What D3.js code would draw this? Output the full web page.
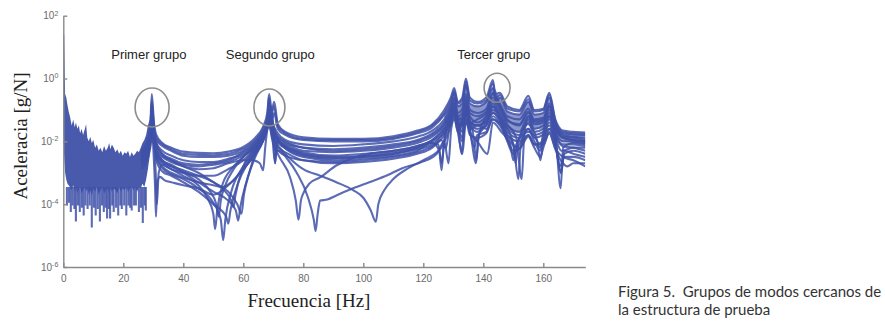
<!DOCTYPE html>
<html>
<head>
<meta charset="utf-8">
<script src="https://cdn.jsdelivr.net/npm/d3@7"></script>
<style>
	body { margin: 0; background: #fff; }
	.axis path, .axis line { stroke: #8a8a8a; stroke-width: 1.4; }
	.axis text { font-family: "Liberation Sans", Arial, sans-serif; font-size: 10px; fill: #6a6a6a; }
	.frf { fill: none; stroke: #3f51a8; stroke-width: 2.1; stroke-opacity: 0.85; }
	.band { fill: #3f51a8; }
	.group-label { font-family: "Liberation Sans", Arial, sans-serif; font-size: 13px; fill: #222; }
	.axis-title { font-family: "Liberation Serif", "Times New Roman", serif; font-size: 19px; fill: #222; }
	.caption { font-family: "Lato", "Open Sans", sans-serif; font-size: 15px; fill: #333; white-space: pre; }
</style>
</head>
<body>
<script>

// ---- data (frequency in Hz, acceleration in g/N) ----

var xTicks = [0, 20, 40, 60, 80, 100, 120, 140, 160];
var yTicks = [1e-6, 1e-4, 1e-2, 1e0, 1e2];
var yTickExp = ["-6", "-4", "-2", "0", "2"];

// dense low-frequency noise band
var noiseHz = [0,0.3,0.6,1,1.4,1.8,2.2,2.8,3.3,3.8,4.2,4.7,5.2,5.6,6.1,6.6,7.2,7.6,8.0,8.5,9,9.5,10,10.6,11.2,11.8,12.4,13,13.6,14.2,14.8,15.3,15.7,16.2,16.8,17.4,18,18.6,19.2,19.8,20.4,21,21.6,22.2,22.8,23.4,24,24.6,25.2,25.8,26.4,27,27.6,28.2,28.8];
var noiseTop = [25,25,0.32,0.25,0.14,0.089,0.063,0.032,0.05,0.028,0.04,0.025,0.032,0.018,0.025,0.016,0.025,0.035,0.013,0.01,0.014,8.9e-3,0.011,6.3e-3,8e-3,5e-3,6.3e-3,4.5e-3,7.1e-3,5e-3,6.3e-3,8.9e-3,5.6e-3,8e-3,6.3e-3,4.5e-3,5.6e-3,4e-3,5e-3,3.5e-3,4.5e-3,4e-3,5e-3,3.2e-3,4.5e-3,3.5e-3,4e-3,5e-3,4.5e-3,6.3e-3,8.9e-3,0.011,0.016,0.032,0.05];
var noiseBottom = [0.02,3e-3,1e-3,6e-4,4.5e-4,4e-4,3.5e-4,2.8e-4,4e-4,2.5e-4,3.5e-4,2.2e-4,3.2e-4,3.5e-4,2.2e-4,2.8e-4,3.5e-4,2.5e-4,3.2e-4,2e-4,2.8e-4,1.8e-4,3.2e-4,2.5e-4,3.5e-4,2e-4,2.8e-4,3.5e-4,2.2e-4,2.8e-4,3.2e-4,2.2e-4,3.5e-4,2.5e-4,3.2e-4,2.8e-4,2.2e-4,3.5e-4,2.5e-4,3.2e-4,2.8e-4,3.5e-4,2.5e-4,3.2e-4,3.5e-4,2.8e-4,3.5e-4,2.5e-4,3.5e-4,3.2e-4,4.5e-4,3.5e-4,6e-4,1.3e-3,3.5e-3];
var noiseFloor = 3.5e-4;
var noiseDipHz = [1.2,1.9,2.5,3.1,3.7,4.2,4.9,5.5,6.2,6.8,7.4,8.1,8.8,9.5,10.2,10.8,11.5,12.2,12.9,13.5,14.1,14.6,15.2,15.6,16.3,16.8,17.6,18.3,19,19.5,20.3,21,21.7,22.3,22.8,23.6,24.2,25.2,25.9,26.5,27.1,27.5];
var noiseDipVal = [9e-5,1.1e-4,5.6e-5,9e-5,7e-5,2.8e-5,9e-5,5.6e-5,7.7e-5,4.4e-5,9e-5,7e-5,9e-5,1.8e-5,7.7e-5,4.4e-5,7e-5,2.8e-5,9e-5,5.6e-5,7.7e-5,3.5e-5,7e-5,3.5e-5,9e-5,5.6e-5,7.7e-5,4.4e-5,9e-5,7e-5,9e-5,4.4e-5,9e-5,7.7e-5,6.3e-5,9e-5,9e-5,5.6e-5,7.7e-5,2.5e-5,9e-5,6.3e-5];

// solid core of the third group
var coreHz = [127,129.2,130.3,131.5,133,134.2,135.5,138,141,143.2,145.5,148,152,155,157,160,162,164,166.5,170,174];
var coreTop = [0.071,0.16,0.35,0.13,0.16,0.63,0.16,0.13,0.18,0.5,0.25,0.089,0.071,0.18,0.071,0.08,0.25,0.04,0.018,0.0166,0.016];
var coreBottom = [0.032,0.05,0.063,0.032,0.02,0.063,0.032,0.032,0.04,0.08,0.05,0.025,0.02,0.04,0.025,0.025,0.05,0.016,0.01,8.9e-3,8e-3];

// individual FRF curves [Hz, g/N]
var topA = [[26,5e-3],[28,0.01],[29,0.032],[29.5,0.32],[30.2,0.04],[31,0.016],[33,8.9e-3],[36,6.3e-3],[40,4.7e-3],[45,4.3e-3],[50,4.2e-3],[55,4.7e-3],[60,6.6e-3],[64,0.013],[66.5,0.028],[68,0.08],[68.6,0.32],[69.5,0.1],[70.3,0.18],[71.5,0.035],[74,0.02],[80,0.0135],[90,0.012],[100,0.012],[110,0.0145],[118,0.022],[123,0.035],[127,0.1],[129.2,0.25],[130.3,0.5],[131.5,0.18],[133,0.25],[134.2,1.0],[135.5,0.25],[138,0.18],[141,0.25],[143.2,0.89],[144,0.32],[145.5,0.35],[148,0.13],[152,0.1],[155,0.28],[157,0.1],[160,0.11],[162,0.35],[164,0.05],[166.5,0.022],[170,0.02],[174,0.019]];
var topE = [[26,4.5e-3],[28,9e-3],[29,0.025],[29.5,0.2],[30.2,0.03],[31,0.013],[33,8e-3],[36,5.6e-3],[40,4e-3],[45,3.7e-3],[50,3.6e-3],[55,4e-3],[60,5.8e-3],[64,0.011],[66.5,0.024],[68,0.06],[68.5,0.25],[69.4,0.07],[70.2,0.13],[71.5,0.03],[74,0.018],[80,0.012],[90,0.011],[100,0.011],[110,0.013],[118,0.02],[123,0.032],[127,0.08],[129.2,0.2],[130.3,0.4],[131.5,0.16],[133,0.2],[134.2,0.8],[135.5,0.2],[138,0.16],[141,0.2],[143.2,0.7],[144.2,0.25],[145.5,0.3],[148,0.11],[152,0.089],[155,0.22],[157,0.089],[160,0.1],[162,0.3],[164,0.045],[166.5,0.02],[170,0.018],[174,0.0175]];
var topB = [[26,4e-3],[28,8e-3],[29,0.02],[29.6,0.13],[30.2,0.025],[31,0.011],[33,7.1e-3],[36,5e-3],[40,3.5e-3],[45,3.2e-3],[50,3.2e-3],[55,3.5e-3],[60,5e-3],[64,0.01],[66.5,0.02],[68,0.04],[68.8,0.16],[69.6,0.05],[70.3,0.08],[71.5,0.025],[74,0.016],[80,0.011],[90,0.01],[100,0.01],[110,0.012],[118,0.018],[123,0.028],[127,0.071],[129.2,0.16],[130.3,0.35],[131.5,0.13],[133,0.16],[134.2,0.63],[135.5,0.16],[138,0.13],[141,0.18],[143.2,0.5],[144.3,0.16],[145.5,0.25],[148,0.089],[152,0.071],[155,0.18],[157,0.071],[160,0.08],[162,0.25],[164,0.04],[166.5,0.018],[170,0.0166],[174,0.016]];
var topC = [[26,3.2e-3],[28,6.3e-3],[29,0.016],[29.4,0.08],[30,0.02],[31,8.9e-3],[33,5e-3],[36,3.5e-3],[40,2.5e-3],[45,2.2e-3],[50,2.2e-3],[55,2.8e-3],[60,4e-3],[64,8e-3],[66.5,0.016],[68,0.032],[69,0.1],[69.8,0.04],[71.5,0.018],[74,0.011],[80,8e-3],[90,7.1e-3],[100,8e-3],[110,0.01],[118,0.014],[123,0.022],[127,0.05],[129.2,0.13],[130.3,0.25],[131.5,0.08],[133,0.11],[134.2,0.32],[135.5,0.1],[138,0.08],[141,0.11],[143.2,0.35],[145.5,0.16],[148,0.063],[152,0.05],[155,0.11],[157,0.05],[160,0.056],[162,0.16],[164,0.032],[166.5,0.016],[170,0.014],[174,0.013]];
var topD = [[26,2.5e-3],[28,5e-3],[29,0.013],[29.7,0.05],[30.3,0.016],[31,6.3e-3],[33,3.5e-3],[36,2.5e-3],[40,1.8e-3],[45,1.6e-3],[50,1.8e-3],[55,2.2e-3],[60,3.5e-3],[64,6.3e-3],[66.5,0.013],[68,0.025],[68.4,0.063],[69.3,0.025],[71.5,0.013],[74,8.9e-3],[80,6.3e-3],[90,5.6e-3],[100,6.3e-3],[110,8e-3],[118,0.011],[123,0.018],[127,0.04],[129.2,0.1],[130.3,0.16],[131.5,0.05],[133,0.063],[134.2,0.2],[135.5,0.05],[136.8,0.013],[137.6,2.5e-3],[138.4,0.013],[141,0.063],[143.2,0.2],[145.5,0.1],[148,0.035],[151,0.013],[152.8,6.3e-4],[153.6,0.013],[155,0.063],[157,0.035],[160,0.04],[162,0.1],[164,0.025],[166.5,0.013],[170,0.011],[174,0.01]];
var dipA = [[26,2e-3],[28,4e-3],[29,0.01],[29.6,0.032],[30.3,0.01],[31,4e-3],[33,2e-3],[36,1.3e-3],[40,8e-4],[45,4e-4],[48,1.6e-4],[50,5e-5],[50.6,1.6e-5],[51.3,6.3e-5],[53,4e-4],[56,1.3e-3],[60,3.2e-3],[64,7.1e-3],[66.5,0.014],[68,0.028],[69,0.063],[70,0.02],[72,0.01],[75,6.3e-3],[80,4.5e-3],[90,3.5e-3],[100,4e-3],[110,5e-3],[118,7.1e-3],[123,0.011],[127,0.025],[129.2,0.063],[130.3,0.1],[131.5,0.032],[132.8,4e-3],[133.5,0.025],[134.2,0.13],[135.5,0.04],[138,0.032],[141,0.04],[143.2,0.13],[145.5,0.063],[148,0.025],[150,8e-3],[150.8,2e-3],[151.6,0.01],[155,0.035],[157,0.02],[159,6.3e-3],[160,0.02],[162,0.063],[164,0.018],[165.8,3.2e-4],[166.6,6.3e-3],[170,8.9e-3],[174,8e-3]];
var dipB = [[26,1.6e-3],[28,3.2e-3],[29,8e-3],[29.5,0.025],[30.2,8e-3],[31,3.2e-3],[33,1.4e-3],[36,8.9e-4],[40,6.3e-4],[45,3.2e-4],[50,1.1e-4],[52.5,3.2e-5],[53.3,7.1e-6],[54,3.2e-5],[56,2.5e-4],[60,1.6e-3],[64,5e-3],[66.5,0.011],[68.2,0.04],[69.5,0.016],[71,5e-3],[72,5e-3],[75,2.5e-3],[77.8,1e-3],[81.6,1.6e-4],[83.5,3.2e-5],[84.1,1.4e-5],[84.8,5e-5],[85.6,1.3e-4],[88,1.4e-4],[91,1.9e-4],[96.6,3.2e-4],[102,5e-4],[108,8.3e-4],[113,1.4e-3],[119,2.1e-3],[124.5,4e-3],[127,0.01],[128.4,2e-3],[129.3,0.025],[130.3,0.05],[131.5,0.02],[133,4e-3],[134.2,0.04],[136,0.016],[138,0.01],[141.4,4e-3],[143.2,0.04],[146,0.02],[149,8e-3],[150,2.5e-3],[151,8e-3],[155,0.02],[158,0.01],[159,2.5e-3],[160,0.01],[162,0.025],[164,0.01],[165.8,1e-3],[167,4e-3],[170,5e-3],[174,4e-3]];
var dipC = [[26,1.3e-3],[28,2.5e-3],[29,6.3e-3],[29.7,0.02],[30.4,6.3e-3],[31,2.5e-3],[33,1.1e-3],[36,8e-4],[40,5e-4],[45,2.5e-4],[50,1e-4],[54.3,4e-5],[55,2.4e-5],[55.7,6.3e-5],[58,4e-4],[62,2.5e-3],[65,8e-3],[67,0.018],[68.5,0.05],[69.5,0.013],[71,5e-3],[72,3.2e-3],[75.6,7.1e-4],[77.5,1.3e-4],[78.4,3.2e-5],[79.2,1.3e-4],[80,2.2e-4],[82,4.5e-4],[85.6,7.1e-4],[91,1.7e-3],[96,2.8e-3],[102,4e-3],[110,5e-3],[118,7.1e-3],[123,0.011],[126,0.02],[129.2,0.05],[130.3,0.08],[131.5,0.025],[134.2,0.08],[136,0.032],[138,0.025],[141,0.032],[143.2,0.08],[146,0.04],[148,0.016],[152,0.01],[155,0.025],[157,0.013],[160,0.016],[162,0.04],[164,0.013],[166,5e-3],[170,6.3e-3],[174,6.3e-3]];
var dipD = [[26,2.5e-3],[28,5e-3],[29,0.013],[29.5,0.063],[30.1,0.013],[31,5e-3],[33,2.5e-3],[36,1.6e-3],[40,1e-3],[45,5e-4],[50,2.5e-4],[55,1.3e-4],[57.5,6.3e-5],[58.3,3e-5],[59,8e-5],[61,5e-4],[64,3.2e-3],[66.5,0.01],[68,0.025],[68.9,0.08],[69.8,0.02],[71,8e-3],[73,5e-3],[75,3.2e-3],[80,1.3e-3],[85.6,8e-4],[91,5e-4],[96.6,2.8e-4],[100,1.6e-4],[102.5,6.3e-5],[104.2,2.75e-5],[105,1e-4],[107,2.8e-4],[110,6.3e-4],[115,1.4e-3],[121,2.8e-3],[124.5,4.5e-3],[126,6.3e-3],[128,0.016],[129.5,0.04],[130.3,0.063],[131.5,0.02],[134.2,0.063],[135.5,0.02],[137,6.3e-3],[138,0.016],[141,0.02],[143.2,0.063],[145.5,0.04],[148,0.013],[152,6.3e-3],[155,0.016],[157,8e-3],[160,0.01],[162,0.025],[164,8e-3],[165.5,1.6e-3],[167,3.2e-3],[170,3.2e-3],[174,2.5e-3]];
var dipE = [[26,3.2e-3],[28,6.3e-3],[29,0.016],[29.6,0.1],[30.3,0.016],[31,8e-3],[33,4e-3],[36,2.5e-3],[40,1.6e-3],[45,1e-3],[50,5e-4],[55,2.5e-4],[58,1e-4],[59.4,5e-5],[60.2,2e-4],[62,1e-3],[64,4e-3],[66.5,0.011],[68,0.032],[69.2,0.13],[70,0.032],[72,0.01],[75,5e-3],[80,3.2e-3],[90,2.5e-3],[100,2.8e-3],[110,3.5e-3],[118,5e-3],[123,8.9e-3],[125.3,5e-3],[126.1,1.2e-3],[126.8,8e-3],[128,0.032],[129.2,0.1],[130.3,0.16],[131.5,0.05],[133,0.05],[134.2,0.16],[135.5,0.063],[138,0.04],[141,0.063],[143.2,0.16],[145.5,0.08],[148,0.032],[152,0.02],[155,0.063],[157,0.025],[160,0.032],[162,0.08],[164,0.02],[166.5,0.01],[170,0.01],[174,8.9e-3]];
var dipF = [[26,2e-3],[28,4e-3],[29,0.01],[29.4,0.05],[30,0.01],[31,5e-3],[33,2.5e-3],[36,1.8e-3],[40,1.1e-3],[45,6.3e-4],[49,2.5e-4],[51,1e-4],[51.8,4e-5],[52.5,1.3e-4],[54,4e-4],[57,1.4e-3],[60,3.2e-3],[64,8e-3],[66.5,0.016],[68,0.04],[68.7,0.2],[69.6,0.04],[71,0.013],[74,6.3e-3],[80,3.5e-3],[90,2.8e-3],[100,3.2e-3],[110,4e-3],[118,6.3e-3],[123,0.01],[127,0.02],[129.2,0.063],[130.3,0.13],[131.5,0.04],[133,0.02],[134.2,0.1],[135.5,0.032],[138,0.02],[141,0.04],[143.2,0.1],[145.5,0.063],[148,0.02],[152,0.013],[155,0.04],[157,0.016],[160,0.02],[162,0.05],[164,0.016],[166.5,8e-3],[170,8e-3],[174,7.1e-3]];
var midA = [[26,3.2e-3],[28,6.3e-3],[29,0.02],[29.4,0.08],[30,6.3e-3],[30.6,3.2e-4],[30.9,4e-5],[31.3,5e-4],[32.2,7.4e-4],[34,5.6e-4],[36,5e-4],[40,4e-4],[45,3.2e-4],[50,2e-4],[55,4e-4],[60,1.3e-3],[64,4e-3],[66.5,0.01],[68,0.025],[69,0.05],[70,0.016],[72,6.3e-3],[75,4e-3],[80,2.5e-3],[90,2e-3],[100,2.2e-3],[110,2.8e-3],[118,4e-3],[123,6.3e-3],[127,0.016],[129.2,0.04],[130.3,0.08],[131.5,0.032],[134.2,0.05],[136,0.025],[138,0.032],[141,0.025],[143.2,0.05],[146,0.032],[148,0.01],[150,4e-3],[152,8e-3],[155,0.016],[157,8e-3],[160,8e-3],[162,0.02],[164,6.3e-3],[166.5,3.2e-3],[170,2.5e-3],[174,1.6e-3]];
var midB = [[26,4e-3],[28,8e-3],[29,0.025],[29.5,0.16],[30.2,0.013],[30.8,1e-3],[31.2,1e-4],[31.8,1e-3],[33,1.8e-3],[36,1.3e-3],[40,1e-3],[45,8e-4],[50,8e-4],[55,1.3e-3],[60,2.5e-3],[64,6.3e-3],[66.5,0.016],[68,0.05],[68.5,0.13],[69.4,0.032],[70.6,2e-3],[71.3,0.01],[74,8e-3],[80,5e-3],[90,4.5e-3],[100,5e-3],[110,6.3e-3],[118,8.9e-3],[123,0.014],[127,0.032],[129.2,0.08],[130.3,0.13],[131.5,0.063],[133,0.032],[134.2,0.13],[135.5,0.04],[138,0.05],[141,0.08],[143.2,0.25],[145.5,0.13],[148,0.05],[152,0.032],[155,0.08],[157,0.045],[160,0.05],[162,0.13],[164,0.032],[166.5,0.014],[170,0.013],[174,0.011]];
var midC = [[26,2.5e-3],[28,5e-3],[29,0.013],[29.8,0.04],[30.5,0.01],[31,5e-3],[33,3.2e-3],[36,2.2e-3],[40,1.6e-3],[45,1.3e-3],[50,1.4e-3],[55,2e-3],[60,2.5e-3],[63,2.5e-3],[65.5,2e-3],[66.6,1.2e-3],[67.3,6.3e-3],[68,0.025],[69,0.08],[70,0.016],[70.6,2e-3],[71.2,0.01],[73,8e-3],[76,5.6e-3],[80,4e-3],[90,3.2e-3],[100,3.5e-3],[110,4.5e-3],[118,6.3e-3],[122,8.9e-3],[125,8e-3],[126.1,2e-3],[127,0.01],[129.2,0.05],[130.3,0.1],[131.5,0.04],[133,0.013],[134.2,0.08],[135.5,0.025],[137.6,2e-3],[138.5,0.016],[141,0.032],[143.2,0.08],[145.5,0.05],[148,0.016],[150,8e-3],[151.7,6.3e-4],[152.4,6.3e-3],[155,0.025],[157,0.01],[159,5e-3],[160,0.013],[162,0.032],[164,0.01],[166,1e-3],[167,5e-3],[170,4e-3],[174,3.2e-3]];
var midD = [[26,3.2e-3],[28,6.3e-3],[29,0.018],[29.5,0.1],[30.1,0.02],[31,8e-3],[33,4e-3],[36,2.8e-3],[40,2e-3],[45,1.8e-3],[50,2e-3],[55,2.5e-3],[60,4.5e-3],[64,8.9e-3],[66.5,0.018],[68,0.035],[69.2,0.08],[70,0.028],[72,0.013],[75,8.9e-3],[80,6.3e-3],[90,5e-3],[100,5.6e-3],[110,7.1e-3],[118,0.01],[123,0.016],[127,0.035],[129.2,0.089],[130.3,0.2],[131.5,0.063],[133,0.08],[134.2,0.25],[135.5,0.08],[138,0.063],[141,0.089],[143.2,0.32],[145.5,0.13],[148,0.045],[152,0.035],[155,0.089],[157,0.04],[160,0.045],[162,0.13],[164,0.028],[166.5,0.013],[170,0.011],[174,0.01]];
var midE = [[26,2.8e-3],[28,5.6e-3],[29,0.014],[29.6,0.063],[30.3,0.011],[31,4.5e-3],[33,2.2e-3],[36,1.6e-3],[40,1.2e-3],[45,8e-4],[50,5e-4],[54,2.5e-4],[56,1.3e-4],[56.7,8e-5],[57.4,2e-4],[60,1.6e-3],[64,5.6e-3],[66.5,0.013],[68,0.032],[69,0.1],[70,0.025],[72,8e-3],[75,5.6e-3],[80,3.8e-3],[90,3e-3],[100,3.2e-3],[110,4e-3],[118,5.6e-3],[123,8e-3],[127,0.02],[129.2,0.05],[130.3,0.1],[131.5,0.04],[133,0.032],[134.2,0.1],[135.5,0.04],[138,0.032],[141,0.05],[143.2,0.13],[145.5,0.063],[148,0.025],[152,0.016],[155,0.05],[157,0.02],[160,0.025],[162,0.063],[164,0.016],[166.5,7e-3],[170,6.3e-3],[174,5e-3]];
var midF = [[26,2.2e-3],[28,4.5e-3],[29,0.011],[29.7,0.035],[30.4,8e-3],[31,3.5e-3],[33,1.6e-3],[36,1e-3],[40,7e-4],[45,5e-4],[50,4e-4],[53,3.5e-4],[56,5e-4],[60,1.3e-3],[64,4e-3],[66.5,0.01],[68,0.028],[68.8,0.07],[69.8,0.02],[71,6.3e-3],[74,3.5e-3],[80,2.5e-3],[90,2.2e-3],[100,2.5e-3],[110,3.2e-3],[118,4.5e-3],[123,7e-3],[126,0.011],[127.5,6e-3],[128.5,0.02],[129.5,0.05],[130.3,0.07],[131.5,0.028],[133,0.01],[134.2,0.05],[135.5,0.016],[138,0.013],[141,0.018],[143.2,0.05],[145.5,0.032],[148,0.011],[150,5e-3],[152,5.6e-3],[155,0.014],[157,6.3e-3],[159,3.2e-3],[160,6.3e-3],[162,0.018],[164,5.6e-3],[166.5,2e-3],[168,1.6e-3],[170,2e-3],[174,2e-3]];

// groups of close modes (centre of each circle) and their labels
var groupNames = ["Primer grupo", "Segundo grupo", "Tercer grupo"];
var groupHz = [29.6, 68.7, 144.6];
var groupVal = [0.12, 0.12, 0.51];
var groupLabelHz = [28.5, 69, 143.5];
var groupLabelVal = [12, 12, 12];

var captionLines = ["Figura 5.  Grupos de modos cercanos de", "la estructura de prueba"];

// ---- drawing ----
var w = 885;
var h = 326;

var svg = d3.select("body")
	.append("svg")
	.attr("width", w)
	.attr("height", h);

var xScale = d3.scaleLinear()
	.domain([0, 174])
	.range([63.3, 585.3]);

var yScale = d3.scaleLog()
	.domain([1e-6, 1e2])
	.range([267, 15.7]);

svg.append("clipPath")
	.attr("id", "plot-clip")
	.append("rect")
	.attr("x", xScale(0))
	.attr("y", yScale(1e2))
	.attr("width", xScale(174) - xScale(0))
	.attr("height", yScale(1e-6) - yScale(1e2));

var plot = svg.append("g").attr("clip-path", "url(#plot-clip)");

// noise band
var noise = noiseHz.map((f, i) => ({ f: f, t: noiseTop[i], b: noiseBottom[i] }));
var bandArea = d3.area()
	.x(d => xScale(d.f))
	.y0(d => yScale(d.b))
	.y1(d => yScale(d.t));

plot.selectAll("line.noise-dip")
	.data(noiseDipHz.map((f, i) => ({ f: f, v: noiseDipVal[i] })))
	.enter()
	.append("line")
	.attr("class", "frf")
	.attr("stroke-width", 1.5)
	.attr("x1", d => xScale(d.f))
	.attr("x2", d => xScale(d.f))
	.attr("y1", yScale(noiseFloor))
	.attr("y2", d => yScale(d.v));

plot.append("path")
	.datum(noise)
	.attr("class", "band")
	.attr("fill-opacity", 0.95)
	.attr("d", bandArea);

// core of third group
var core = coreHz.map((f, i) => ({ f: f, t: coreTop[i], b: coreBottom[i] }));
plot.append("path")
	.datum(core)
	.attr("class", "band")
	.attr("fill-opacity", 0.6)
	.attr("d", bandArea.curve(d3.curveMonotoneX));

// curves
var curves = [midA, midF, dipB, dipC, dipD, dipA, dipF, dipE, midC, midE, midB, midD, topD, topC, topB, topE, topA];
var line = d3.line()
	.x(d => xScale(d[0]))
	.y(d => yScale(d[1]))
	.curve(d3.curveMonotoneX);

plot.selectAll("path.frf")
	.data(curves)
	.enter()
	.append("path")
	.attr("class", "frf")
	.attr("d", line);

// circles around the groups
var rx = [17, 15.5, 13];
var ry = [19.5, 18.5, 14.5];
svg.selectAll("ellipse.group")
	.data(groupHz)
	.enter()
	.append("ellipse")
	.attr("cx", d => xScale(d))
	.attr("cy", (d, i) => yScale(groupVal[i]))
	.attr("rx", (d, i) => rx[i])
	.attr("ry", (d, i) => ry[i])
	.attr("fill", "none")
	.attr("stroke", "#8c8c8c")
	.attr("stroke-width", 1.6);

svg.selectAll("text.group-label")
	.data(groupNames)
	.enter()
	.append("text")
	.attr("class", "group-label")
	.attr("x", (d, i) => xScale(groupLabelHz[i]))
	.attr("y", (d, i) => yScale(groupLabelVal[i]) + 14)
	.attr("text-anchor", "middle")
	.text(d => d);

//X axis
var xAxis = d3.axisBottom(xScale)
	.tickValues(xTicks)
	.tickSizeInner(-4)
	.tickSizeOuter(0)
	.tickPadding(8);

svg.append("g")
	.attr("class", "axis")
	.attr("transform", "translate(0," + yScale(1e-6) + ")")
	.call(xAxis);

//Y axis
var yAxis = d3.axisLeft(yScale)
	.tickValues(yTicks)
	.tickSizeInner(-4)
	.tickSizeOuter(0)
	.tickPadding(5)
	.tickFormat(() => "");

var yg = svg.append("g")
	.attr("class", "axis")
	.attr("transform", "translate(" + xScale(0) + ",0)")
	.call(yAxis);

yg.selectAll(".tick text")
	.each(function(d, i) {
		var t = d3.select(this);
		t.append("tspan").text("10");
		t.append("tspan")
			.attr("dy", "-0.55em")
			.attr("font-size", "7px")
			.text(yTickExp[i]);
	});

// axis titles
svg.append("text")
	.attr("class", "axis-title")
	.attr("text-anchor", "middle")
	.attr("x", 309)
	.attr("y", 307)
	.text("Frecuencia [Hz]");

svg.append("text")
	.attr("class", "axis-title")
	.attr("text-anchor", "middle")
	.attr("transform", "translate(27,136) rotate(-90)")
	.text("Aceleracia [g/N]");

// figure caption
svg.selectAll("text.caption")
	.data(captionLines)
	.enter()
	.append("text")
	.attr("class", "caption")
	.attr("x", 618)
	.attr("y", (d, i) => 297 + i * 18)
	.text(d => d);

</script>
</body>
</html>
